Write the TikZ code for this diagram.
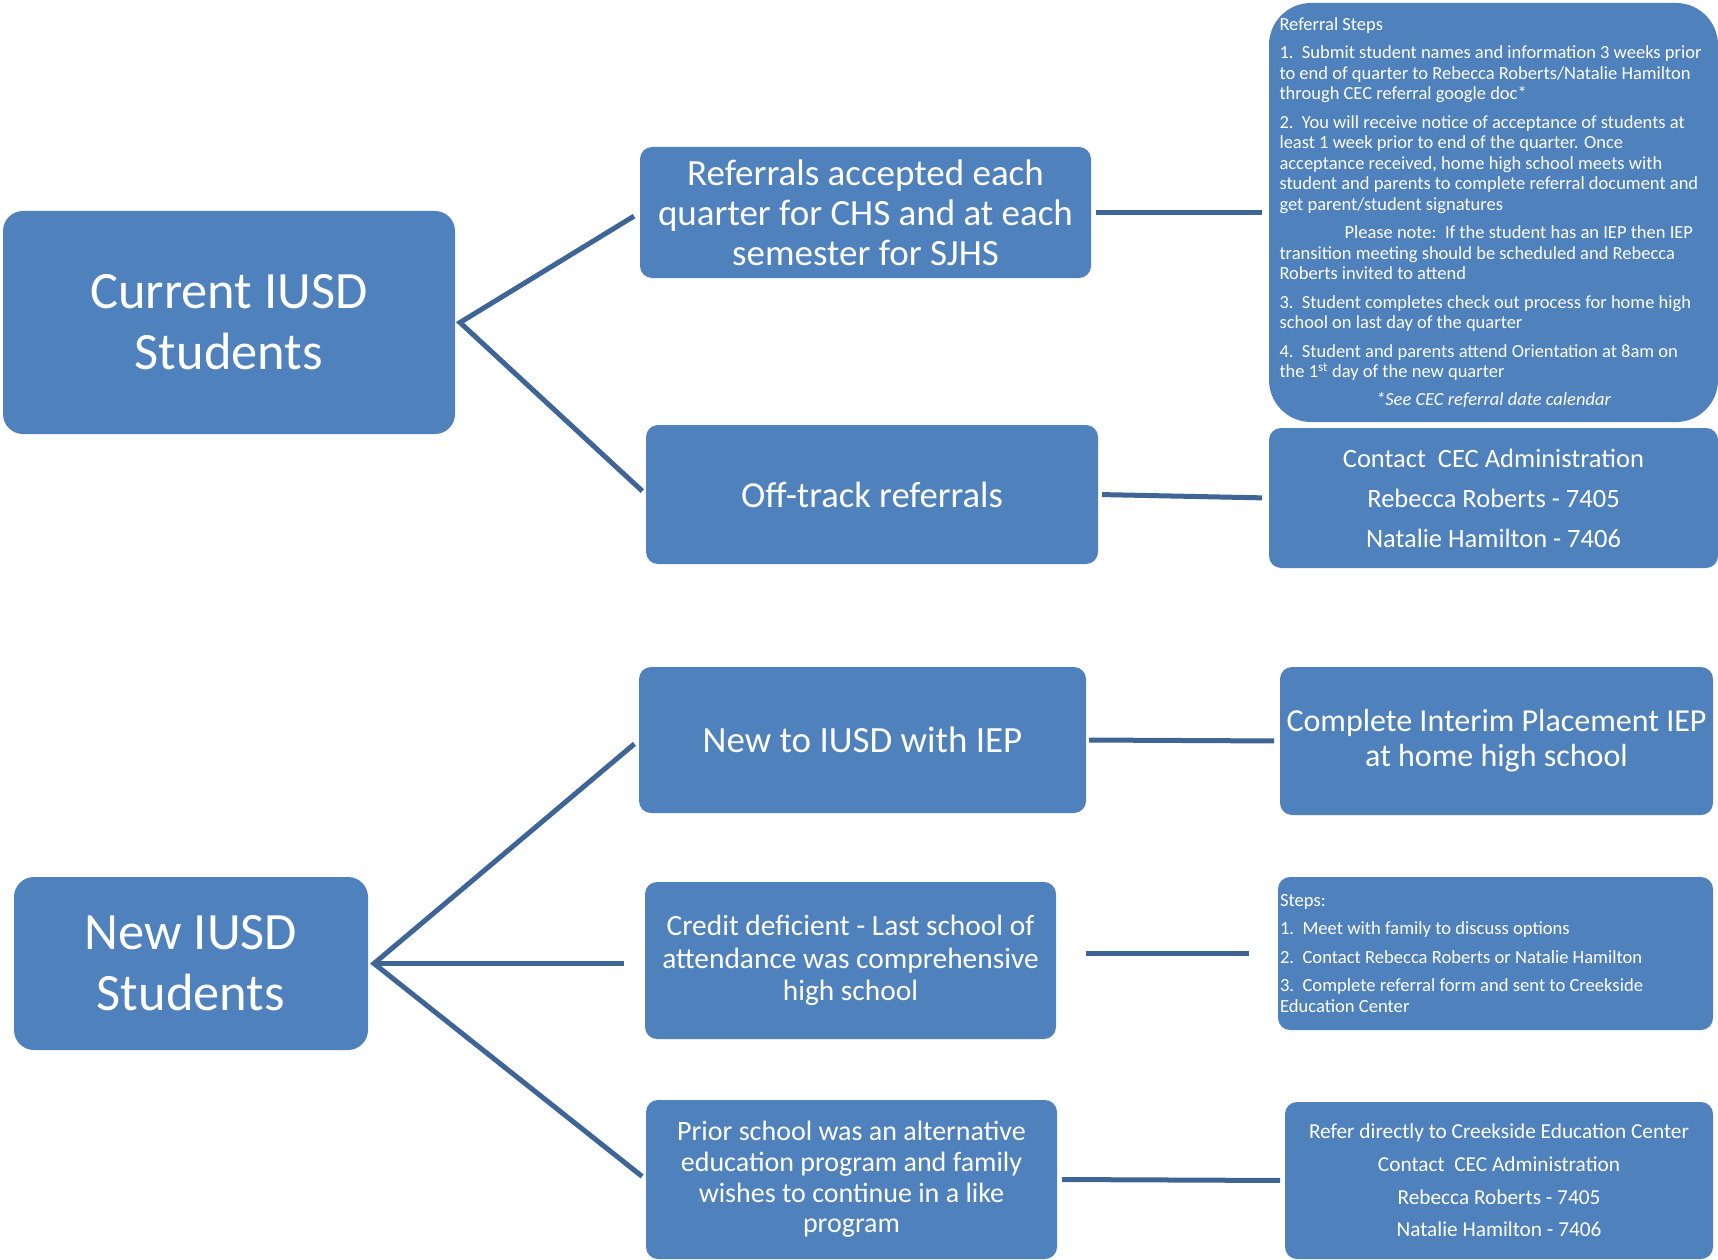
\documentclass[tikz,border=0pt]{standalone}
\usepackage{fontspec}
\setmainfont{Carlito}
\usetikzlibrary{positioning}
\definecolor{boxblue}{RGB}{79,129,189}
\definecolor{linkblue}{RGB}{62,101,150}

\begin{document}
\begin{tikzpicture}
            [
            x=1pt, y=-1pt,
            group/.style={
                rectangle,
                fill=boxblue,
                text=white,
                rounded corners=20pt,
                inner sep=0pt,
                outer sep=0pt,
                align=center,
                font=\fontsize{52.5}{61}\selectfont
            },
            topic/.style={
                rectangle,
                fill=boxblue,
                text=white,
                rounded corners=12pt,
                inner sep=0pt,
                outer sep=0pt,
                align=center
            },
            info/.style={
                topic
            },
            link/.style={
                draw=linkblue,
                line width=5pt
            }
            ]
            \useasboundingbox (0,0) rectangle (1718,1260);

            % the two groups of students on the left
            \node (current) [group, minimum width=452pt, minimum height=223pt] at (229,322.5) {Current IUSD\\Students};
            \node (newstud) [group, minimum width=354pt, minimum height=173pt] at (191,963.5) {New IUSD\\Students};

            % kinds of referral, middle column
            \node (accepted) [topic, minimum width=451pt, minimum height=131pt, font=\fontsize{37}{40}\selectfont] at (865.5,212.5) {Referrals accepted each\\quarter for CHS and at each\\semester for SJHS};
            \node (offtrack) [topic, minimum width=452pt, minimum height=139pt, font=\fontsize{36.6}{40}\selectfont] at (872,494.5) {Off-track referrals};
            \node (newiep) [topic, minimum width=447pt, minimum height=146pt, font=\fontsize{37}{40}\selectfont] at (862.5,740) {New to IUSD with IEP};
            \node (credit) [topic, minimum width=411pt, minimum height=157pt, font=\fontsize{29.4}{32.5}\selectfont] at (850.5,960.5) {Credit deficient - Last school of\\attendance was comprehensive\\high school};
            \node (prior) [topic, minimum width=411pt, minimum height=159pt, font=\fontsize{28}{30.6}\selectfont] at (851.5,1179.5) {Prior school was an alternative\\education program and family\\wishes to continue in a like\\program};

            % what to do next, right column
            \node (steps) [info, rounded corners=42pt, minimum width=449pt, minimum height=419pt, right=178pt of accepted, font=\fontsize{18.5}{20.55}\selectfont] {\parbox[c][390pt][t]{428pt}{\raggedright\setlength{\parskip}{7.8pt}%
                Referral Steps\par
                1.\ \ Submit student names and information 3 weeks prior\\
                to end of quarter to Rebecca Roberts/Natalie Hamilton\\
                through CEC referral google doc*\par
                2.\ \ You will receive notice of acceptance of students at\\
                least 1 week prior to end of the quarter. Once\\
                acceptance received, home high school meets with\\
                student and parents to complete referral document and\\
                get parent/student signatures\par
                \hspace*{65pt}Please note:\ \ If the student has an IEP then IEP\\
                transition meeting should be scheduled and Rebecca\\
                Roberts invited to attend\par
                3.\ \ Student completes check out process for home high\\
                school on last day of the quarter\par
                4.\ \ Student and parents attend Orientation at 8am on\\
                the 1\textsuperscript{st} day of the new quarter\par
                {\centering\itshape *See CEC referral date calendar\par}}};
            \node (contact) [info, minimum width=449pt, minimum height=140pt, right=171pt of offtrack, yshift=-3.5pt, font=\fontsize{26.5}{40}\selectfont] {Contact\ \ CEC Administration\\Rebecca Roberts - 7405\\Natalie Hamilton - 7406};
            \node (interim) [info, minimum width=433pt, minimum height=148pt, right=194pt of newiep, yshift=-1pt, font=\fontsize{32}{35}\selectfont] {Complete Interim Placement IEP\\at home high school};
            \node (newsteps) [info, minimum width=435pt, minimum height=153pt, right=222pt of credit, yshift=7pt, font=\fontsize{18.6}{21}\selectfont] {\parbox{431pt}{\raggedright\setlength{\parskip}{7.5pt}%
                Steps:\par
                1.\ \ Meet with family to discuss options\par
                2.\ \ Contact Rebecca Roberts or Natalie Hamilton\par
                3.\ \ Complete referral form and sent to Creekside\\
                Education Center}};
            \node (refer) [info, minimum width=428pt, minimum height=157pt, right=228pt of prior, yshift=-1pt, font=\fontsize{21.3}{32.7}\selectfont] {Refer directly to Creekside Education Center\\Contact\ \ CEC Administration\\Rebecca Roberts - 7405\\Natalie Hamilton - 7406};

            % branching lines
            \coordinate (cj) at ([xshift=5pt]current.east);
            \coordinate (nj) at ([xshift=6pt]newstud.east);
            \draw[link, shorten <=7pt, shorten >=5pt] (accepted.west) -- (cj) -- (offtrack.west);
            \draw[link, shorten <=6pt, shorten >=5pt] (newiep.west) -- (nj) -- (prior.west);
            \draw[link, shorten >=21pt] (nj) -- (nj -| credit.west);

            % straight lines to the right column
            \draw[link, shorten <=5pt, shorten >=7pt] (accepted.east) -- (steps.west);
            \draw[link, shorten <=4pt, shorten >=7pt] (offtrack.east) -- (contact.west);
            \draw[link, shorten <=3pt, shorten >=6pt] (newiep.east) -- (interim.west);
            \draw[link, shorten <=30pt, shorten >=29pt] (credit.east |- newsteps.west) -- (newsteps.west);
            \draw[link, shorten <=5pt, shorten >=5pt] (prior.east) -- (refer.west);

        \end{tikzpicture}
\end{document}
